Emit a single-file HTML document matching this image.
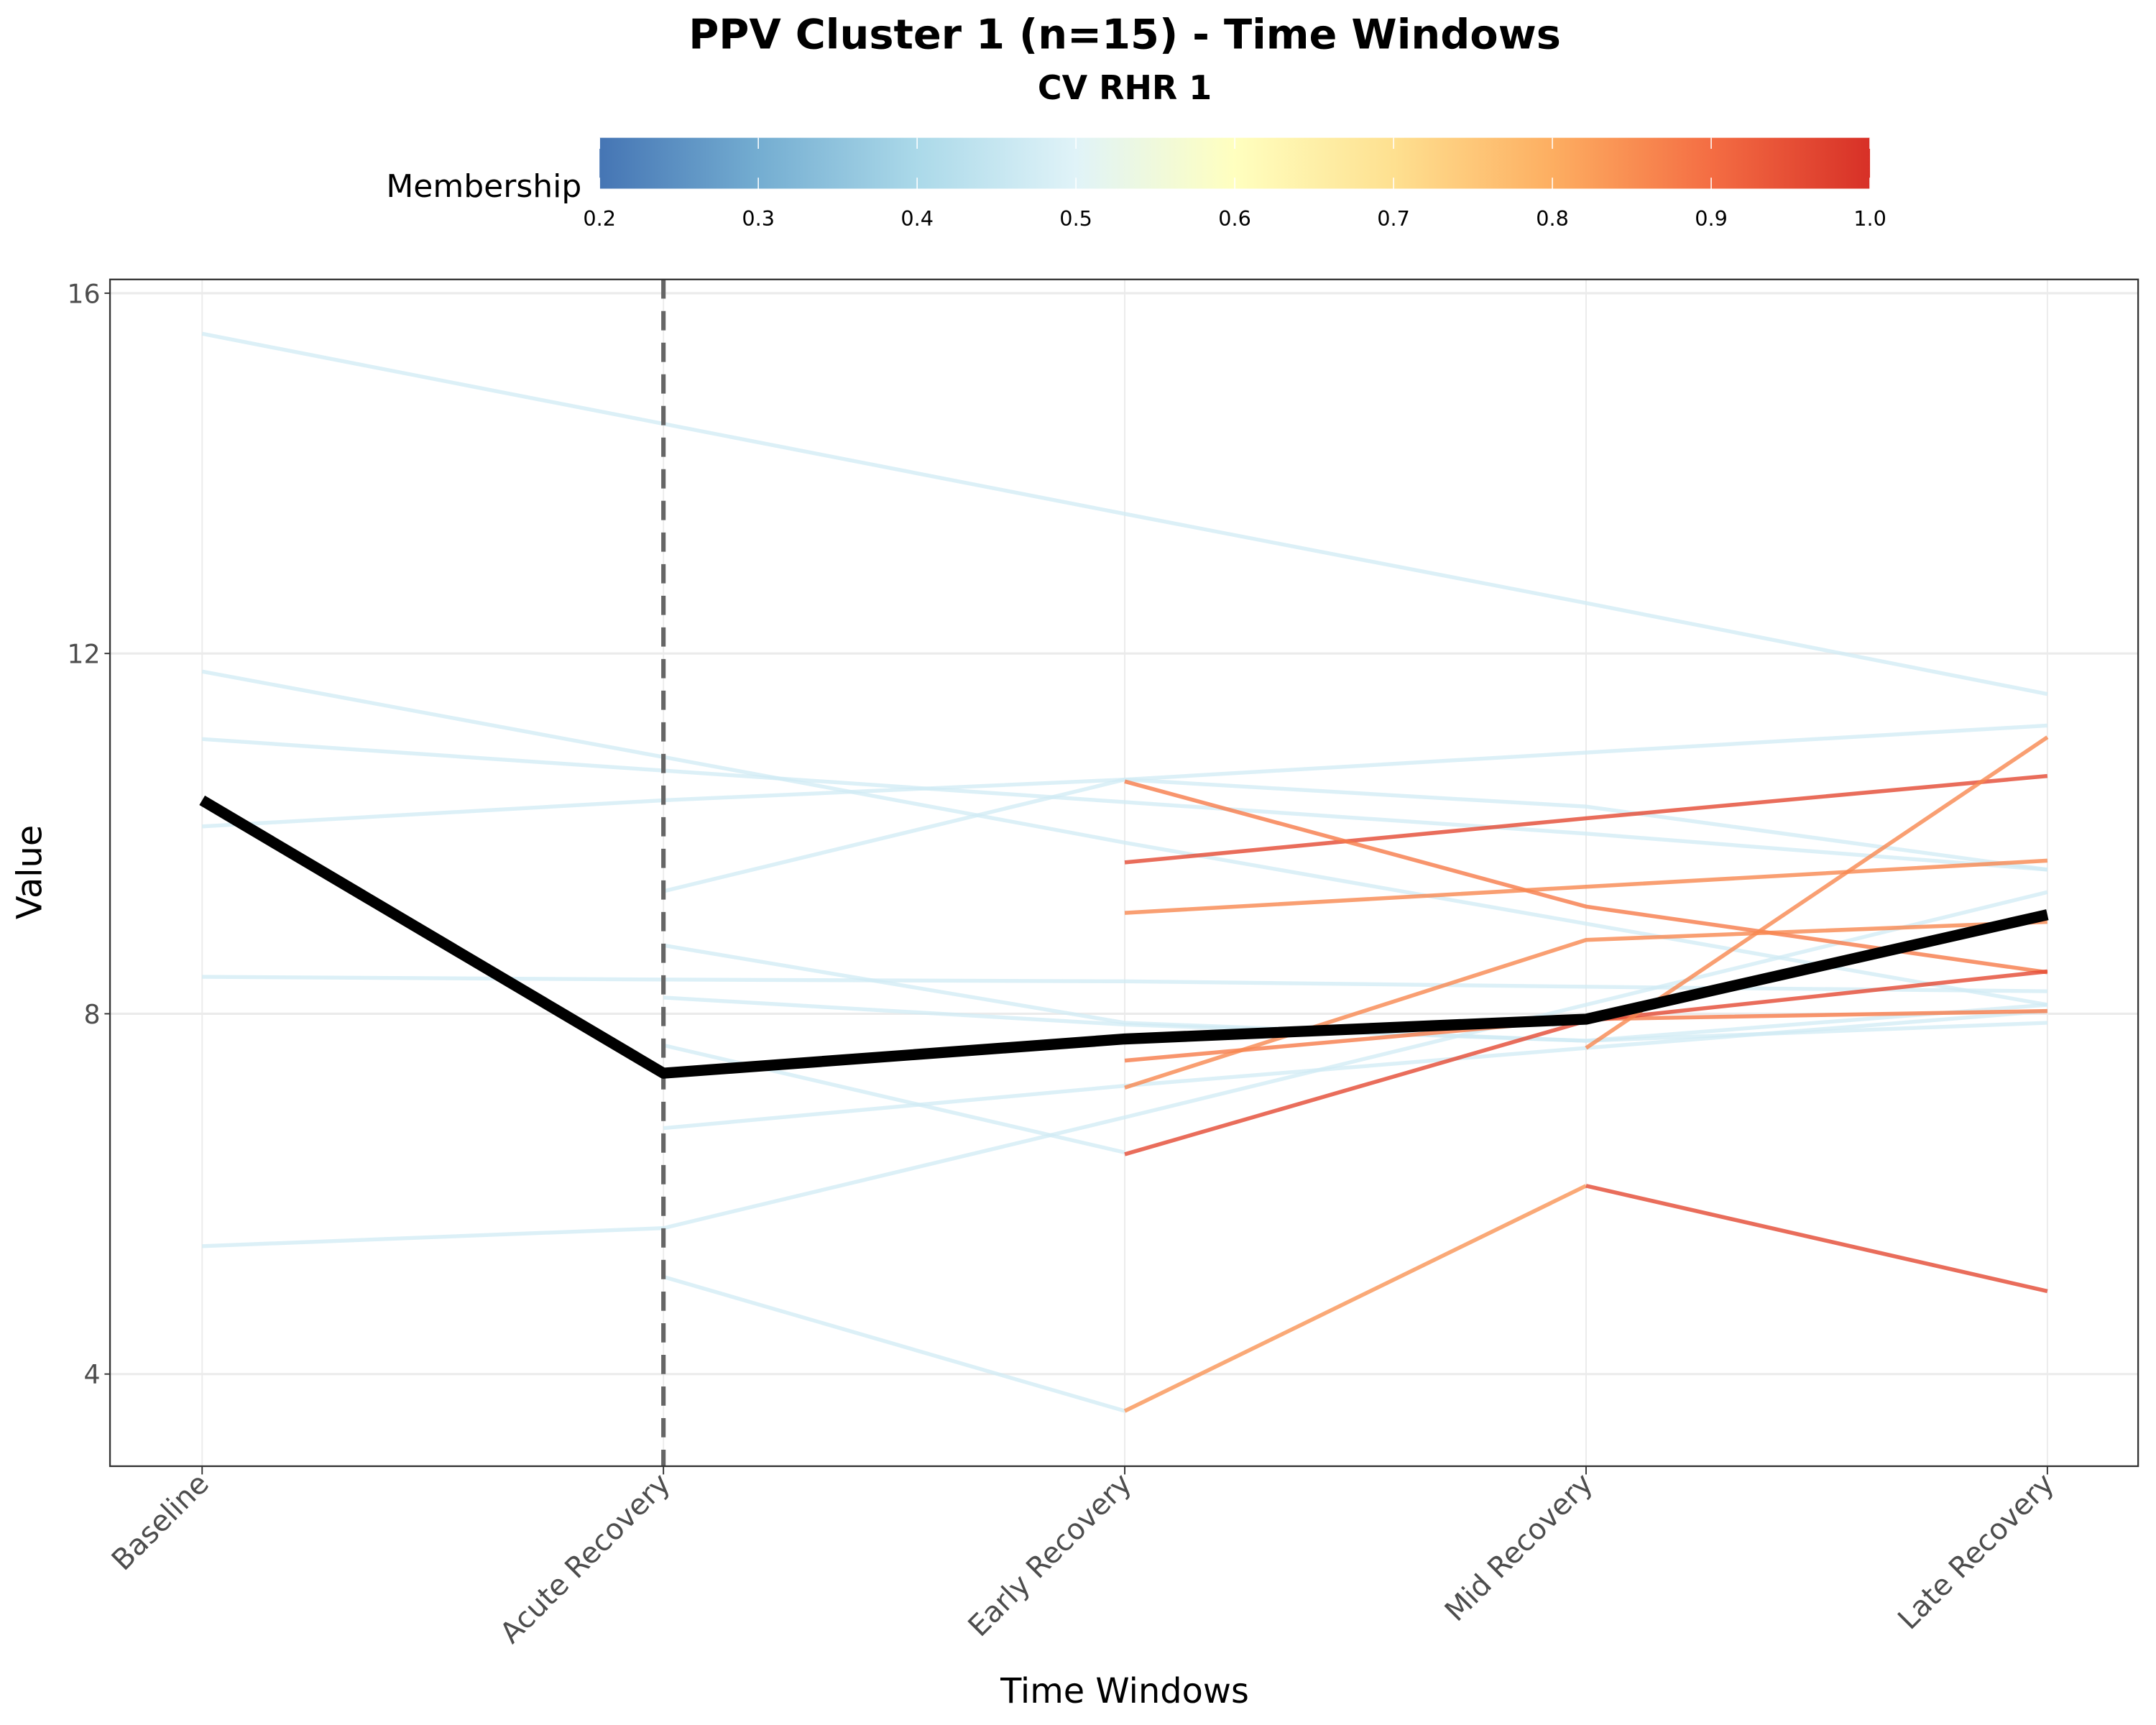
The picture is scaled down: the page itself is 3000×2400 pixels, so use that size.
<!DOCTYPE html>
<html><head><meta charset="utf-8"><style>
html,body{margin:0;padding:0;background:#fff;}
svg{display:block;}
text{font-family:"DejaVu Sans","Liberation Sans",sans-serif;}
</style></head><body>
<svg id="chart" width="3000" height="2400" viewBox="0 0 1568 1254" xmlns="http://www.w3.org/2000/svg">
<defs>
<linearGradient id="cbar" x1="0" x2="1" y1="0" y2="0">
<stop offset="0" stop-color="#4575b4"/><stop offset="0.125" stop-color="#74add1"/>
<stop offset="0.25" stop-color="#abd9e9"/><stop offset="0.375" stop-color="#e0f3f8"/>
<stop offset="0.5" stop-color="#ffffbf"/><stop offset="0.625" stop-color="#fee090"/>
<stop offset="0.75" stop-color="#fdae61"/><stop offset="0.875" stop-color="#f46d43"/>
<stop offset="1" stop-color="#d73027"/>
</linearGradient>
</defs>
<text x="818" y="35" text-anchor="middle" font-size="30" font-weight="bold">PPV Cluster 1 (n=15) - Time Windows</text>
<text x="818" y="72" text-anchor="middle" font-size="24" font-weight="bold">CV RHR 1</text>
<g id="legend">
<text x="423" y="143" text-anchor="end" font-size="23">Membership</text>
<rect x="436" y="100" width="924" height="37" fill="url(#cbar)"/>
</g>
<g id="panel"></g>
<text transform="translate(30,634) rotate(-90)" text-anchor="middle" font-size="25">Value</text>
<text x="818" y="1238" text-anchor="middle" font-size="25">Time Windows</text>
</svg>
<script>
const categories = ["Baseline","Acute Recovery","Early Recovery","Mid Recovery","Late Recovery"];
const yTicks = [4,8,12,16];
const cbTicks = [0.2,0.3,0.4,0.5,0.6,0.7,0.8,0.9,1.0];
const s1 = [15.55,14.55,13.55,12.56,11.55];
const s2 = [11.8,10.85,9.9,9.0,8.1];
const s3 = [11.05,10.7,10.35,10.0,9.6];
const s4 = [10.08,10.37,10.6,10.9,11.2];
const s5 = [8.41,8.38,8.36,8.3,8.25];
const s6 = [5.42,5.62,6.85,8.1,9.35];
const s7 = [null,9.36,10.6,10.3,9.6];
const s8 = [null,8.76,7.9,7.7,7.9];
const s9 = [null,8.18,7.88,7.7,8.1];
const s10 = [null,7.65,6.46,null,null];
const s11 = [null,6.73,7.2,7.62,8.03];
const s12 = [null,5.08,3.59,null,null];
const r1 = [null,null,9.68,10.17,10.64];
const r2 = [null,null,10.58,9.19,8.46];
const r3 = [null,null,9.12,9.41,9.7];
const r4 = [null,null,7.48,7.94,8.03];
const r5 = [null,null,7.18,8.82,9.02];
const r6 = [null,null,6.44,7.92,8.47];
const r7a = [null,null,3.59,6.09,null];
const r7b = [null,null,null,6.09,4.92];
const r8 = [null,null,null,7.62,11.07];
const series = [s1,s2,s3,s4,s5,s6,s7,s8,s9,s10,s11,s12,r1,r2,r3,r4,r5,r6,r7a,r7b,r8];
const membership = [0.47,0.47,0.47,0.47,0.47,0.47,0.47,0.47,0.47,0.47,0.47,0.47,0.96,0.88,0.86,0.88,0.86,0.96,0.84,0.96,0.86];
const meanSeries = [10.37,7.34,7.72,7.94,9.1];

const NS="http://www.w3.org/2000/svg";
const PX0=80,PX1=1555,PY0=203,PY1=1066;
const xs=i=>147+i*(1489-147)/(categories.length-1);
const ys=v=>213+(16-v)*65.5;
const cbx=v=>436+(v-0.2)/0.8*924;
const stops=[[69,117,180],[116,173,209],[171,217,233],[224,243,248],[255,255,191],[254,224,144],[253,174,97],[244,109,67],[215,48,39]];
function cmap(m){let t=(m-0.2)/0.8*8;t=Math.max(0,Math.min(8,t));const i=Math.min(7,Math.floor(t)),f=t-i;
const c=stops[i].map((a,k)=>Math.round(a+(stops[i+1][k]-a)*f));return `rgb(${c.join(',')})`;}
function el(tag,attrs,parent){const e=document.createElementNS(NS,tag);for(const k in attrs)e.setAttribute(k,attrs[k]);parent.appendChild(e);return e;}
const panel=document.getElementById('panel');
const legend=document.getElementById('legend');
cbTicks.forEach(v=>{
 const t=el('text',{x:cbx(v),y:164,'text-anchor':'middle','font-size':15},legend);
 t.textContent=v.toFixed(1);
 
 
 const l=el('line',{x1:cbx(v),x2:cbx(v),y1:100,y2:108,stroke:'#fff','stroke-width':0.8},legend);
 
 
 const l2=el('line',{x1:cbx(v),x2:cbx(v),y1:129,y2:137,stroke:'#fff','stroke-width':0.8},legend);
 
 
});
const bg=el('rect',{x:PX0,y:PY0,width:PX1-PX0,height:PY1-PY0,fill:'#fff'},panel);


yTicks.forEach(v=>{
 const g=el('line',{x1:PX0,x2:PX1,y1:ys(v),y2:ys(v),stroke:'#ebebeb','stroke-width':1.6},panel);
 
 
 const tk=el('line',{x1:PX0-4,x2:PX0,y1:ys(v),y2:ys(v),stroke:'#333','stroke-width':1},panel);
 
 
 const t=el('text',{x:PX0-7,y:ys(v)+7,'text-anchor':'end','font-size':19,fill:'#4d4d4d'},panel);
 t.textContent=v;
 
 
});
categories.forEach((c,i)=>{
 const g=el('line',{x1:xs(i),x2:xs(i),y1:PY0,y2:PY1,stroke:'#ebebeb','stroke-width':1},panel);
 
 
 const tk=el('line',{x1:xs(i),x2:xs(i),y1:PY1,y2:PY1+6,stroke:'#333','stroke-width':1},panel);
 
 
 const t=el('text',{transform:`translate(${xs(i)+6},${PY1+14}) rotate(-45)`,'text-anchor':'end','font-size':21,fill:'#4d4d4d'},panel);
 t.textContent=c;
 
 
});
series.forEach((s,si)=>{
 let d='';let pen=false;
 s.forEach((v,i)=>{if(v===null){pen=false;return;}d+=(pen?'L':'M')+xs(i)+','+ys(v);pen=true;});
 const hi=membership[si]>0.6;
 const p=el('path',{d:d,fill:'none',stroke:cmap(membership[si]),'stroke-width':hi?2.9:2.8,'stroke-opacity':hi?0.8:0.75},panel);
 
 
});
const dv=el('line',{x1:xs(1),x2:xs(1),y1:PY0,y2:PY1,stroke:'#666','stroke-width':3.2,'stroke-dasharray':'14,9'},panel);


let md='';meanSeries.forEach((v,i)=>{md+=(i?'L':'M')+xs(i)+','+ys(v);});
const mp=el('path',{d:md,fill:'none',stroke:'#000','stroke-width':8,'stroke-linejoin':'round'},panel);


const br=el('rect',{x:PX0,y:PY0,width:PX1-PX0,height:PY1-PY0,fill:'none',stroke:'#333','stroke-width':1.2},panel);


</script>
</body></html>
